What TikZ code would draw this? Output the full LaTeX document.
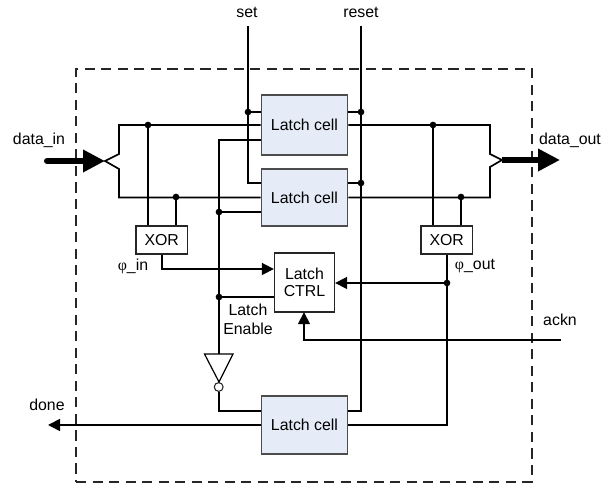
\documentclass[tikz,border=0pt]{standalone}
\usepackage{fontspec}
\setmainfont{Liberation Sans}
\newfontfamily\phifont{Liberation Serif}
\usetikzlibrary{arrows.meta}
\definecolor{cellblue}{HTML}{E6ECF7}
\tikzset{
  wire/.style={line width=1.25pt,draw=black},
  sig/.style={wire,-{Triangle[length=9pt,width=9pt]}},
  bus/.style={line width=4.5pt,draw=black},
  cellbox/.style={draw=black!70,line width=1.2pt,fill=cellblue,minimum width=64.5pt,inner sep=0pt},
  logicbox/.style={draw=black!85,line width=1pt,fill=white,inner sep=0pt,align=center},
  dot/.style={circle,fill=black,inner sep=0pt,minimum size=5pt},
  lbl/.style={inner sep=0pt,align=center},
  boundary/.style={draw=black!85,line width=1.2pt,dash pattern=on 7.6pt off 4.8pt,minimum width=342pt,minimum height=309.75pt,inner sep=0pt}
}
\begin{document}
\begin{tikzpicture}[x=0.75pt,y=-0.75pt,font=\fontsize{11.9pt}{14pt}\selectfont]
\useasboundingbox (0,0) rectangle (611,484);
\node[boundary] (frame) at (304,275.5) {};
% terminals
\coordinate (setT) at (248,26);
\coordinate (resetT) at (361,26);
\coordinate (inTail) at (47,161);
\coordinate (inTip) at (105,161);
\coordinate (outTail) at (502,160);
\coordinate (outTip) at (560,160);
\coordinate (acknT) at (561,340);
\coordinate (doneT) at (48,425);
% boxes
\node[cellbox,minimum height=45pt] (c1) at (304.5,125) {Latch cell};
\node[cellbox,minimum height=42.75pt] (c2) at (304.5,197.5) {Latch cell};
\node[cellbox,minimum height=43.5pt] (c3) at (304.5,425) {Latch cell};
\node[logicbox,minimum width=38.6pt,minimum height=21pt] (xl) at (161.75,240) {XOR};
\node[logicbox,minimum width=38.6pt,minimum height=21pt] (xr) at (446.75,240) {XOR};
\node[logicbox,minimum width=45pt,minimum height=44.25pt] (ctrl) at (304.5,282.5) {Latch\\[-1pt]CTRL};
% junctions
\node[dot] (ds) at (248,112) {};
\node[dot] (dr1) at (361,112) {};
\node[dot] (dr2) at (361,183) {};
\node[dot] (dl1) at (148,125) {};
\node[dot] (dl2) at (176,197) {};
\node[dot] (dr3) at (433,125) {};
\node[dot] (dr4) at (461,197) {};
\node[dot] (de1) at (219,212) {};
\node[dot] (de2) at (219,297) {};
\node[dot] (dp) at (447,283) {};
% set / reset
\draw[wire] (setT) -- (248,183) -- (c2.west|-0,183);
\draw[wire] (ds.center) -- (c1.west|-ds);
\draw[wire] (resetT) -- (361,411) -- (c3.east|-0,411);
\draw[wire] (dr1.center) -- (c1.east|-dr1);
\draw[wire] (dr2.center) -- (c2.east|-dr2);
% data in fork
\draw[wire] (c1.west) -- (119,125) -- (119,154) -- (inTip) -- (119,169) -- (119,197.5) -- (c2.west);
\draw[bus,line cap=round,-{Triangle[length=16.5pt,width=16pt]}] (inTail) -- (inTip);
% data out fork
\draw[wire] (c1.east) -- (490,125) -- (490,154) -- (outTail) -- (490,167) -- (490,197.5) -- (c2.east);
\draw[bus,-{Triangle[length=16.5pt,width=16pt]}] (outTail) -- (outTip);
% XOR inputs
\draw[wire] (dl1.center) -- (dl1.center|-xl.north);
\draw[wire] (dl2.center) -- (dl2.center|-xl.north);
\draw[wire] (dr3.center) -- (dr3.center|-xr.north);
\draw[wire] (dr4.center) -- (dr4.center|-xr.north);
% XOR outputs
\draw[sig] (xl.south) -- (161.75,269) -- (ctrl.west|-0,269);
\draw[wire] (xr.south) -- (446.75,425) -- (c3.east);
\draw[sig] (dp.center) -- (ctrl.east|-dp);
% latch enable
\coordinate (invL) at (204.5,354);
\coordinate (invR) at (233,354);
\coordinate (invB) at (219,382);
\coordinate (invT) at (219,354);
\node[circle,draw=black!85,line width=0.8pt,fill=white,minimum size=6.6pt,inner sep=0pt] (bub) at (218.7,387) {};
\draw[wire] (c1.west|-0,140) -- (219,140) -- (invT);
\draw[wire] (de1.center) -- (c2.west|-de1);
\draw[wire] (de2.center) -- (ctrl.west|-de2);
\draw[line width=0.9pt,draw=black] (invL) -- (invR) -- (invB) -- cycle;
\draw[wire] (bub.south) -- (218.7,411) -- (c3.west|-0,411);
% done / ackn
\draw[sig] (c3.west) -- (doneT);
\draw[sig] (acknT) -- (304,340) -- (304,312.2);
% labels
\node[lbl] (tset) at (247,12) {set};
\node[lbl] (treset) at (361,12) {reset};
\node[lbl] (tin) at (39,140) {data\_in};
\node[lbl] (tout) at (570,140) {data\_out};
\node[lbl] (tpi) at (133,266) {{\phifont φ}\_in};
\node[lbl] (tpo) at (475,266) {{\phifont φ}\_out};
\node[lbl] (ten) at (248,319.5) {Latch\\Enable};
\node[lbl] (tdone) at (47,405) {done};
\node[lbl] (tack) at (560,320) {ackn};
\end{tikzpicture}
\end{document}
